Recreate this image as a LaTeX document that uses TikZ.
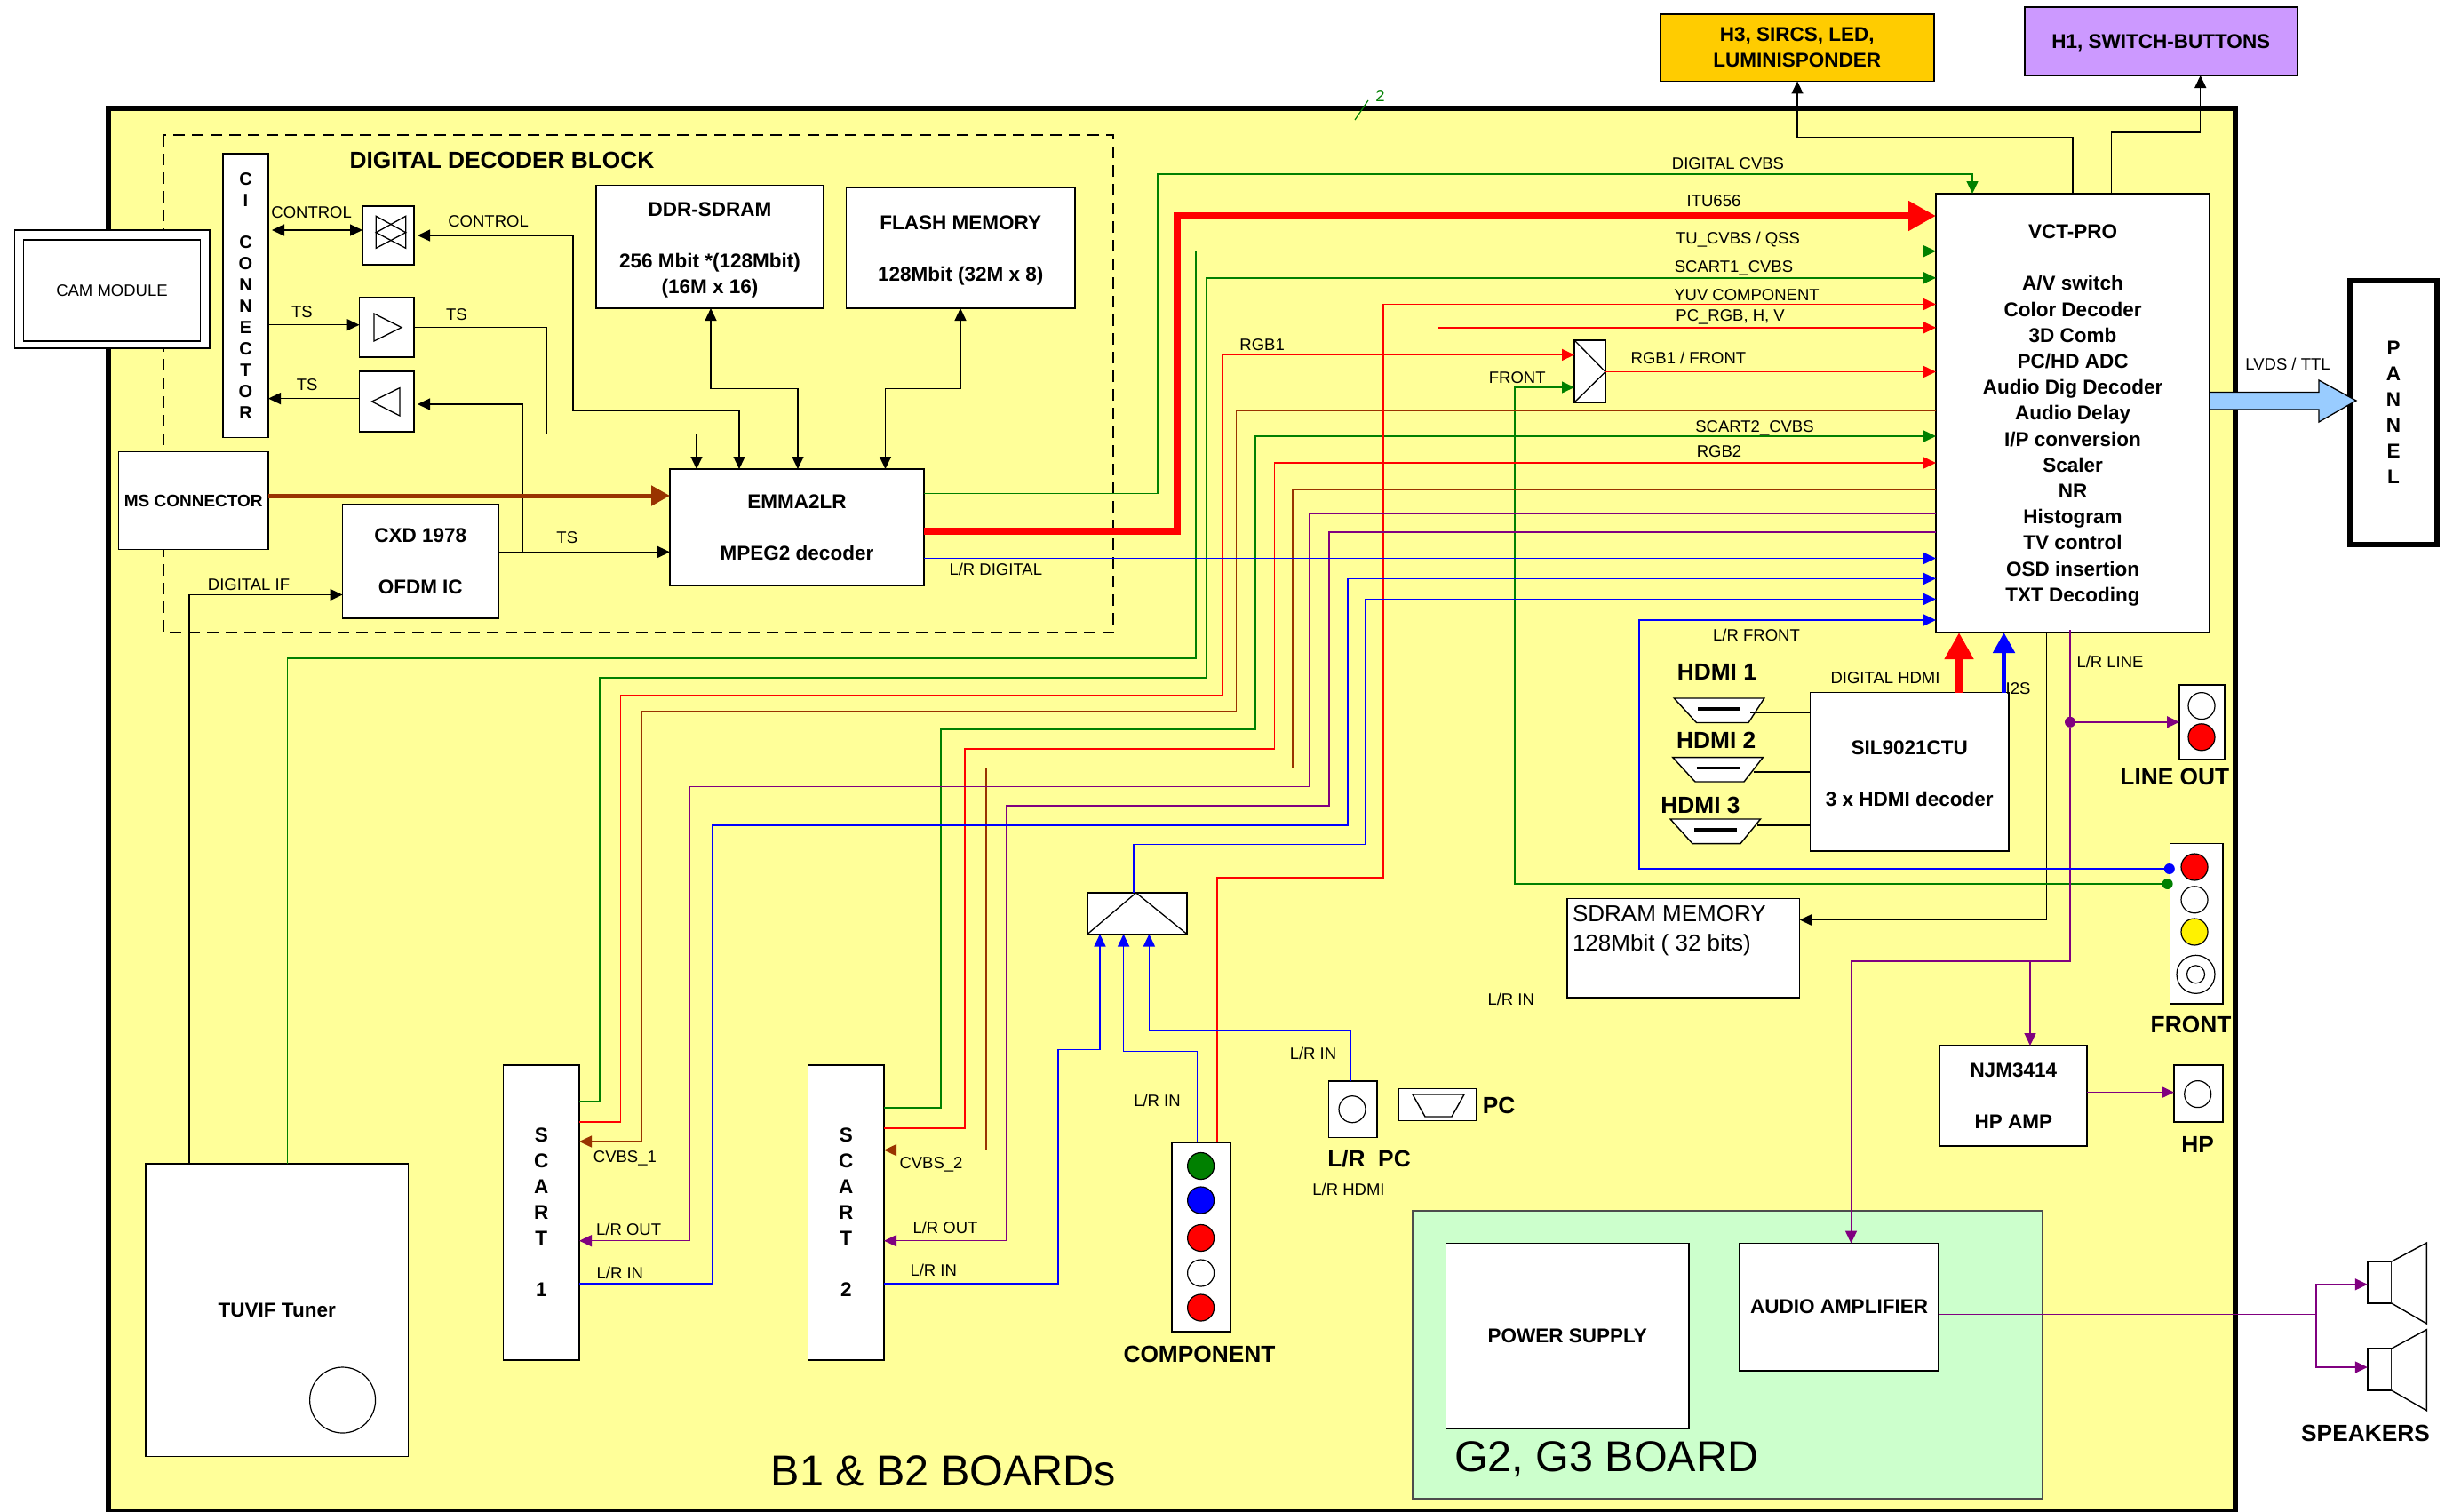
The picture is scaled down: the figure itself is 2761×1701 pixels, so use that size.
\documentclass[tikz,border=0pt]{standalone}
\usepackage{fontspec}
\setmainfont{Liberation Sans}
\usetikzlibrary{arrows.meta,calc}
\definecolor{bd}{HTML}{FFFF99}
\definecolor{gb}{HTML}{CCFFCC}
\definecolor{gn}{HTML}{008000}
\definecolor{rd}{HTML}{FF0000}
\definecolor{bl}{HTML}{0000FF}
\definecolor{pu}{HTML}{800080}
\definecolor{br}{HTML}{993300}
\tikzset{
  every node/.style={inner sep=0pt,outer sep=0pt},
  bxs/.style={draw=black,fill=white,line width=1.4pt,align=center,font=\fontsize{22.5}{29}\selectfont\bfseries},
  bxt/.style={align=center,font=\fontsize{22.5}{29}\selectfont\bfseries},
  lbl/.style={font=\fontsize{18.5}{22}\selectfont,text height=13.3pt,text depth=0pt},
  big/.style={font=\fontsize{26.3}{30}\selectfont\bfseries,text height=18.8pt,text depth=0pt},
  huge/.style={font=\fontsize{48.5}{52}\selectfont,text height=35pt,text depth=0pt},
  wire/.style={line width=1.4pt,line join=miter},
  tip/.style={-{Triangle[length=14pt,width=13pt]}},
  tip2/.style={{Triangle[length=14pt,width=13pt]}-{Triangle[length=14pt,width=13pt]}},
  jack/.style={circle,draw=black,line width=1.2pt,minimum size=30pt,fill=white},
  dotn/.style={circle,minimum size=12pt},
  shp/.style={draw=black,fill=white,line width=1.4pt,line join=miter}
}
\newcommand{\bx}[7][]{\node[bxs,#1,minimum width={#5-#3},minimum height={#6-#4}] (#2) at ({(#3+#5)/2},{(#4+#6)/2}) {#7};}
\begin{document}
\begin{tikzpicture}[x=1pt,y=-1pt]
\useasboundingbox (0,0) rectangle (2761,1701);
\fill[white] (0,0) rectangle (2761,1701);
\begin{scope}
\clip (0,0) rectangle (2761,1701);
\draw[fill=bd,line width=6pt,draw=black,line join=miter] (122,122) rectangle (2516,1702);
\end{scope}
\draw[black,line width=2.4pt,dash pattern=on 13pt off 8pt] (184,152) rectangle (1253,712);
\draw[fill=gb,draw=black!70,line width=1.3pt] (1590,1363) rectangle (2299,1687);
\draw[gn,line width=1.2pt] (1525,135) -- (1540,113);
\node[lbl,text=gn] (tick) at (1553.5,108) {2};

% boxes
\bx[fill=white]{cam}{16.6}{259}{236}{392}{}
\bx[font=\fontsize{18.5}{22}\selectfont]{camin}{26.5}{270}{225.5}{384}{CAM MODULE}
\bx[font=\fontsize{20}{23.9}\selectfont\bfseries]{ci}{251}{173}{302}{492.5}{C\\I\\[23.9pt]C\\O\\N\\N\\E\\C\\T\\O\\R}
\bx{xb}{408}{232}{466}{298}{}
\bx{tsr}{404.5}{334.6}{466}{402}{}
\bx{tsl}{404.5}{418}{466}{486}{}
\bx{ddr}{671}{208.6}{927}{347}{}
\node[bxt,yshift=-3.5pt] (ddrt) at (ddr) {DDR-SDRAM\\[29pt]256 Mbit *(128Mbit)\\(16M x 16)};
\bx{flash}{952.5}{211}{1210}{347}{}
\node[bxt,yshift=-3pt] (flasht) at (flash) {FLASH MEMORY\\[29pt]128Mbit (32M x 8)};
\bx[font=\fontsize{19}{22}\selectfont\bfseries]{ms}{133.5}{508.7}{302}{618.5}{MS CONNECTOR}
\bx{cxd}{385.5}{568}{561}{696}{CXD 1978\\[29pt]OFDM IC}
\bx{emma}{754}{528}{1040}{659}{EMMA2LR\\[29pt]MPEG2 decoder}
\bx[fill={rgb,255:red,255;green,204;blue,0}]{h3}{1868.6}{15.8}{2177}{91.4}{H3, SIRCS, LED,\\LUMINISPONDER}
\bx[fill={rgb,255:red,204;green,153;blue,255}]{h1}{2279}{8}{2585.6}{85}{}
\node[bxt,yshift=-1.5pt] (h1t) at (h1) {H1, SWITCH-BUTTONS};
\bx{vct}{2179}{218}{2487}{712}{}
\node[bxt,yshift=-2.5pt,font=\fontsize{22.5}{29.2}\selectfont\bfseries] (vctt) at (vct) {VCT-PRO\\[29.2pt]A/V switch\\Color Decoder\\3D Comb\\PC/HD ADC\\Audio Dig Decoder\\Audio Delay\\I/P conversion\\Scaler\\NR\\Histogram\\TV control\\OSD insertion\\TXT Decoding};
\bx[line width=6pt]{panel}{2645}{316}{2743}{613}{P\\A\\N\\N\\E\\L}
\bx{fmux}{1772}{383}{1807}{453}{}
\bx{sil}{2037.6}{779.6}{2261}{958}{}
\node[bxt,yshift=-1.5pt] (silt) at (sil) {SIL9021CTU\\[29pt]3 x HDMI decoder};
\bx{sdram}{1764}{1011.5}{2025.7}{1123}{}
\node[anchor=north west,align=left,font=\fontsize{26}{33}\selectfont] (sdramt) at (1770,1019) {SDRAM MEMORY\\128Mbit ( 32 bits)};
\bx{lineout}{2453}{771}{2504}{854.5}{}
\bx{frontb}{2442.6}{949.6}{2501.8}{1130}{}
\bx{njm}{2183.5}{1177}{2349}{1290}{NJM3414\\[29pt]HP AMP}
\bx{hp}{2447}{1199}{2501.8}{1263}{}
\bx{power}{1627.4}{1399.6}{1901}{1608.6}{POWER SUPPLY}
\bx{audio}{1958}{1399.6}{2182}{1542.8}{AUDIO AMPLIFIER}
\bx{scarta}{566.6}{1199}{652}{1531}{S\\C\\A\\R\\T\\[29pt]1}
\bx{scartb}{909.7}{1199}{995}{1531}{S\\C\\A\\R\\T\\[29pt]2}
\bx{comp}{1319}{1286}{1385}{1499}{}
\bx{mixb}{1224}{1005}{1336}{1051.5}{}
\bx{lrb}{1495.4}{1216.8}{1550}{1280.6}{}
\bx{pcb}{1574.7}{1225.7}{1662}{1261.5}{}
\bx{tuner}{163.8}{1310}{459.6}{1639.5}{TUVIF Tuner}
\node[jack,minimum size=74pt] (tunc) at (385.6,1576) {};

% jacks
\node[jack,fill=white] (lo1) at (2478,794.6) {};
\node[jack,fill=red] (lo2) at (2478,829.8) {};
\node[jack,fill=red] (fr1) at (2470,976) {};
\node[jack] (fr2) at (2470,1012.8) {};
\node[jack,fill=yellow] (fr3) at (2470,1049) {};
\node[jack,minimum size=43pt] (fr4) at (2471.5,1096.8) {};
\node[jack,minimum size=20pt] (fr5) at (2471.5,1096.8) {};
\node[jack] (hpc) at (2473.7,1231.6) {};
\node[jack] (lrc) at (1522,1248.7) {};
\node[jack,fill=gn] (cp1) at (1351.6,1312.5) {};
\node[jack,fill=bl] (cp2) at (1351.6,1351) {};
\node[jack,fill=red] (cp3) at (1351.6,1393.5) {};
\node[jack] (cp4) at (1351.6,1433) {};
\node[jack,fill=red] (cp5) at (1351.6,1472) {};

% inner symbols
\draw[line width=1.3pt,line join=miter] (423.3,243.3) -- (456.7,261.7) -- (423.3,279.3) -- cycle;
\draw[line width=1.3pt,line join=miter] (456.7,243.3) -- (423.3,261.7) -- (456.7,279.3) -- cycle;
\draw[line width=1.3pt] (421,353) -- (452,368.6) -- (421,384) -- cycle;
\draw[line width=1.3pt] (450,436.6) -- (418.6,452) -- (450,468) -- cycle;
\draw[line width=1.3pt] (fmux.north west) -- (fmux.east |- 0,418.5) -- (fmux.south west);
\draw[line width=1.3pt] (mixb.south west) -- (1278.7,1005) -- (mixb.south east);
\draw[shp] (1590,1232) -- (1648,1232) -- (1634,1257) -- (1604,1257) -- cycle;
% HDMI connectors
\foreach \tx/\ty/\bl/\br/\bh in {1884.3/786/1909.5/1968/813.5,1882.8/852.6/1908/1963/880,1880/922/1905/1959/949.6}{
  \draw[shp] (\tx,\ty) -- ({\tx+101.5},\ty) -- (\br,\bh) -- (\bl,\bh) -- cycle;
  \draw[line width=3.5pt] ({\tx+27},{\ty+12}) -- ({\tx+75},{\ty+12});
}
\draw[line width=1.4pt] (1970,801.8) -- (sil.west |- 0,801.8);
\draw[line width=1.4pt] (1974,869) -- (sil.west |- 0,869);
\draw[line width=1.4pt] (1977.6,928.8) -- (sil.west |- 0,928.8);
% speakers
\node[shp,minimum width=27pt,minimum height=47pt] (spk1) at (2678.3,1443.5) {};
\node[shp,minimum width=27pt,minimum height=47pt] (spk2) at (2678.3,1541.5) {};
\draw[shp] (spk1.north east) -- (2731.4,1399) -- (2731.4,1490) -- (spk1.south east);
\draw[shp] (spk2.north east) -- (2731.4,1496.6) -- (2731.4,1587.8) -- (spk2.south east);

% black connectors
\draw[wire,tip2,shorten <=4pt] (ci.east |- 0,259) -- (xb.west |- 0,259);
\draw[wire,tip2,shorten <=4pt] (xb.east |- 0,265) -- (645,265) -- (645,462) -- (832,462) -- (832,0 |- emma.north);
\draw[wire,tip] (ci.east |- 0,365.7) -- (tsr.west |- 0,365.7);
\draw[wire,tip] (tsr.east |- 0,368.6) -- (615,368.6) -- (615,488.4) -- (784,488.4) -- (784,0 |- emma.north);
\draw[wire,tip] (tsl.west |- 0,448.6) -- (ci.east |- 0,448.6);
\draw[wire,tip,shorten >=4pt] (588,621.4) -- (588,455) -- (tsl.east |- 0,455);
\draw[wire,tip] (cxd.east |- 0,621.4) -- (emma.west |- 0,621.4);
\draw[wire,tip2] (800,0 |- ddr.south) -- (800,437.4) -- (898,437.4) -- (898,0 |- emma.north);
\draw[wire,tip2] (1081,0 |- flash.south) -- (1081,437.4) -- (996.5,437.4) -- (996.5,0 |- emma.north);
\draw[br,line width=5pt,-{Triangle[length=21pt,width=22pt]}] (ms.east |- 0,558) -- (emma.west |- 0,558);
\draw[wire,tip] (213,0 |- tuner.north) -- (213,669.5) -- (cxd.west |- 0,669.5);
\draw[wire,tip] (2333,0 |- vct.north) -- (2333,154.5) -- (2023,154.5) -- (2023,0 |- h3.south);
\draw[wire,tip] (2376.5,0 |- vct.north) -- (2376.5,148.8) -- (2476.7,148.8) -- (2476.7,0 |- h1.south);
\draw[wire,tip] (2303.4,0 |- vct.south) -- (2303.4,1035.5) -- (sdram.east |- 0,1035.5);

% green
\draw[wire,gn,tip] (emma.east |- 0,555.5) -- (1303,555.5) -- (1303,196) -- (2220,196) -- (2220,0 |- vct.north);
\draw[wire,gn,tip,line width=1.2pt] (323.5,0 |- tuner.north) -- (323.5,741) -- (1346,741) -- (1346,282.7) -- (vct.west |- 0,282.7);
\draw[wire,gn,tip] (scarta.east |- 0,1240) -- (675,1240) -- (675,763) -- (1358,763) -- (1358,312.8) -- (vct.west |- 0,312.8);
\draw[wire,gn,tip] (scartb.east |- 0,1247) -- (1059,1247) -- (1059,821) -- (1413,821) -- (1413,491) -- (vct.west |- 0,491);
\node[dotn,fill=gn] (fgd) at (2439.6,995) {};
\draw[wire,gn,tip] (fgd) -- (1705,995) -- (1705,436) -- (fmux.west |- 0,436);
% red
\draw[rd,line width=8pt,line join=miter,-{Triangle[length=31pt,width=32pt]}] (emma.east |- 0,597.5) -- (1325,597.5) -- (1325,243) -- (vct.west |- 0,243);
\draw[wire,rd,tip] (scarta.east |- 0,1263) -- (698.5,1263) -- (698.5,783) -- (1376,783) -- (1376,399.4) -- (fmux.west |- 0,399.4);
\draw[wire,rd,tip] (fmux.east |- 0,418.5) -- (vct.west |- 0,418.5);
\draw[wire,br,tip] (vct.west |- 0,462) -- (1391.6,462) -- (1391.6,800.8) -- (722,800.8) -- (722,1285) -- (scarta.east |- 0,1285);
\draw[wire,rd,tip] (scartb.east |- 0,1270) -- (1086,1270) -- (1086,843) -- (1434.5,843) -- (1434.5,521) -- (vct.west |- 0,521);
\draw[wire,br,tip] (vct.west |- 0,551.5) -- (1455,551.5) -- (1455,864.6) -- (1110,864.6) -- (1110,1294.6) -- (scartb.east |- 0,1294.6);
\draw[wire,rd,tip] (1370,0 |- comp.north) -- (1370,988) -- (1557,988) -- (1557,342.5) -- (vct.west |- 0,342.5);
\draw[wire,rd,tip] (1618.5,0 |- pcb.north) -- (1618.5,368.8) -- (vct.west |- 0,368.8);
% purple
\draw[wire,pu,tip] (vct.west |- 0,578.7) -- (1473.6,578.7) -- (1473.6,885.7) -- (776.4,885.7) -- (776.4,1396.7) -- (scarta.east |- 0,1396.7);
\draw[wire,pu,tip] (vct.west |- 0,599) -- (1496,599) -- (1496,907) -- (1132.8,907) -- (1132.8,1396.7) -- (scartb.east |- 0,1396.7);
\node[dotn,fill=pu] (lod) at (2330,812.8) {};
\draw[wire,pu] (2330,709) -- (lod);
\draw[wire,pu,tip] (lod) -- (lineout.west |- lod);
\draw[wire,pu,tip] (lod) -- (2330,1081.8) -- (2083.5,1081.8) -- (2083.5,0 |- audio.north);
\draw[wire,pu,tip] (2285,1081.8) -- (2285,0 |- njm.north);
\draw[wire,pu,tip] (njm.east |- 0,1229.6) -- (hp.west |- 0,1229.6);
\draw[wire,pu,tip] (audio.east |- 0,1479.7) -- (2607,1479.7) -- (2607,1445.8) -- (spk1.west |- 0,1445.8);
\draw[wire,pu,tip] (2607,1479.7) -- (2607,1539) -- (spk2.west |- 0,1539);
% blue
\draw[wire,bl,tip] (emma.east |- 0,628.5) -- (vct.west |- 0,628.5);
\draw[wire,bl,tip] (scarta.east |- 0,1445) -- (802,1445) -- (802,929) -- (1517,929) -- (1517,651.4) -- (vct.west |- 0,651.4);
\draw[wire,bl,tip] (1276,0 |- mixb.north) -- (1276,950.7) -- (1537,950.7) -- (1537,674.4) -- (vct.west |- 0,674.4);
\node[dotn,fill=bl] (fbd) at (2441.8,978) {};
\draw[wire,bl,tip] (fbd) -- (1845,978) -- (1845,698) -- (vct.west |- 0,698);
\draw[wire,bl,tip] (scartb.east |- 0,1445) -- (1191,1445) -- (1191,1181.7) -- (1238,1181.7) -- (1238,0 |- mixb.south);
\draw[wire,bl,tip] (1347.4,0 |- comp.north) -- (1347.4,1183.6) -- (1264.6,1183.6) -- (1264.6,0 |- mixb.south);
\draw[wire,bl,tip] (1520.7,0 |- lrb.north) -- (1520.7,1160) -- (1293.4,1160) -- (1293.4,0 |- mixb.south);
% hdmi to vct
\draw[rd,line width=8.5pt,-{Triangle[length=30pt,width=31pt]}] (2205,0 |- sil.north) -- (2205,0 |- vct.south);
\draw[bl,line width=5pt,-{Triangle[length=23pt,width=24pt]}] (2255.5,0 |- sil.north) -- (2255.5,0 |- vct.south);
% LVDS
\draw[fill={rgb,255:red,153;green,204;blue,255},line width=1.3pt] (vct.east |- 0,441.5) -- (2610,441.5) -- (2610,428) -- (2652,451) -- (2610,475) -- (2610,461) -- (vct.east |- 0,461) -- cycle;

% labels
\node[big] (ddb) at (565,180) {DIGITAL DECODER BLOCK};
\node[lbl] (t1) at (350.7,238.4) {CONTROL};
\node[lbl] (t2) at (549.6,248.4) {CONTROL};
\node[lbl] (t3) at (340,351) {TS};
\node[lbl] (t4) at (514,354) {TS};
\node[lbl] (t5) at (345.7,433) {TS};
\node[lbl] (t6) at (638.3,605) {TS};
\node[lbl] (t7) at (1120.8,641) {L/R DIGITAL};
\node[lbl] (t8) at (280,658) {DIGITAL IF};
\node[lbl] (t9) at (1945,184) {DIGITAL CVBS};
\node[lbl] (t10) at (1929,226) {ITU656};
\node[lbl] (t11) at (1956,268) {TU\_CVBS / QSS};
\node[lbl] (t12) at (1951.5,300) {SCART1\_CVBS};
\node[lbl] (t13) at (1966,332) {YUV COMPONENT};
\node[lbl] (t14) at (1947.6,355) {PC\_RGB, H, V};
\node[lbl] (t15) at (1420.6,388) {RGB1};
\node[lbl] (t16) at (1900.4,403) {RGB1 / FRONT};
\node[lbl] (t17) at (1707.7,424.7) {FRONT};
\node[lbl] (t18) at (1975,480) {SCART2\_CVBS};
\node[lbl] (t19) at (1935,508) {RGB2};
\node[lbl] (t20) at (2575,410) {LVDS / TTL};
\node[lbl] (t21) at (1977,714.5) {L/R FRONT};
\node[lbl] (t22) at (2122,762.7) {DIGITAL HDMI};
\node[lbl] (t23) at (2271.6,774.4) {I2S};
\node[lbl] (t24) at (2375,745) {L/R LINE};
\node[lbl] (t25) at (1700.7,1124.8) {L/R IN};
\node[lbl] (t26) at (1478,1185.5) {L/R IN};
\node[lbl] (t27) at (1302.5,1239) {L/R IN};
\node[lbl] (t28) at (1518,1338.6) {L/R HDMI};
\node[lbl] (t29) at (703.4,1302) {CVBS\_1};
\node[lbl] (t30) at (1048,1308.6) {CVBS\_2};
\node[lbl] (t31) at (707.6,1384) {L/R OUT};
\node[lbl] (t32) at (697.8,1433) {L/R IN};
\node[lbl] (t33) at (1064,1382) {L/R OUT};
\node[lbl] (t34) at (1050.7,1430) {L/R IN};
\node[big] (b1) at (1932.4,756) {HDMI 1};
\node[big] (b2) at (1931.7,833) {HDMI 2};
\node[big] (b3) at (1914,906) {HDMI 3};
\node[big] (b4) at (2447.8,874) {LINE OUT};
\node[big] (b5) at (2466,1153.4) {FRONT};
\node[big] (b6) at (2473.7,1287.6) {HP};
\node[big] (b7) at (2662.5,1613) {SPEAKERS};
\node[big] (b8) at (1687,1244) {PC};
\node[big] (b9) at (1350,1524) {COMPONENT};
\node[big] (b10) at (1541,1304) {L/R\ \ PC};
\node[huge] (hb1) at (1062,1655) {B1 \& B2 BOARDs};
\node[huge,anchor=west] (hb2) at (1637,1639) {G2, G3 BOARD};
\end{tikzpicture}
\end{document}
